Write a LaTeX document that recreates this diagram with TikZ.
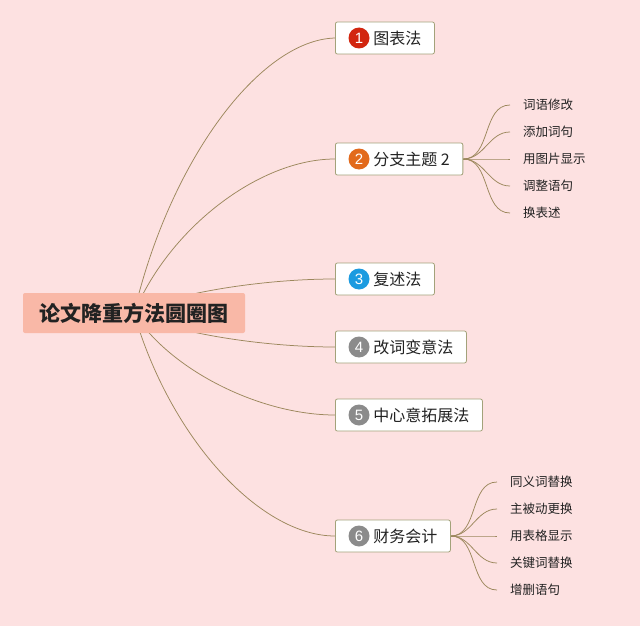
\documentclass[tikz,border=0pt]{standalone}
\usepackage{fontspec}
\setmainfont{Noto Sans CJK SC}
\newfontfamily\digitfont{Liberation Sans}
\usetikzlibrary{positioning,backgrounds}
\definecolor{bgpink}{HTML}{FDE1E1}
\definecolor{rootfill}{HTML}{F9B8A7}
\definecolor{boxline}{HTML}{A3A27A}
\definecolor{linkbrown}{HTML}{9C875C}
\definecolor{numred}{HTML}{D2260F}
\definecolor{numorange}{HTML}{E26A1C}
\definecolor{numblue}{HTML}{1C9BE0}
\definecolor{numgray}{HTML}{8B8B8B}
\definecolor{inkdark}{HTML}{222222}
\begin{document}
\begin{tikzpicture}[x=1pt,y=-1pt,
  root/.style={fill=rootfill,rounded corners=2pt,minimum width=222pt,minimum height=40pt,
    text=inkdark,font=\fontsize{21}{21}\selectfont\bfseries},
  topic/.style={draw=boxline,fill=white,rounded corners=2pt,line width=0.8pt,
    minimum height=32pt,inner xsep=13pt,anchor=west,text=inkdark,font=\fontsize{16}{16}\selectfont},
  num/.style={circle,fill=#1,text=white,inner sep=0pt,minimum size=21pt,font=\digitfont\fontsize{15}{15}\selectfont},
  leaf/.style={anchor=west,inner xsep=13pt,inner ysep=0pt,text=inkdark,font=\fontsize{12.5}{12.5}\selectfont},
  link/.style={draw=linkbrown,line width=0.75pt}]
\useasboundingbox (0,0) rectangle (640,626);

% main topic
\node[root] (root) at (134,313) {论文降重方法圆圈图};

% branches
\node[topic] (t1) at (335,38) {\hspace*{25pt}图表法};
\node[topic] (t2) at (335,159) {\hspace*{25pt}分支主题 2};
\node[topic] (t3) at (335,279) {\hspace*{25pt}复述法};
\node[topic] (t4) at (335,347) {\hspace*{25pt}改词变意法};
\node[topic] (t5) at (335,415) {\hspace*{25pt}中心意拓展法};
\node[topic] (t6) at (335,536) {\hspace*{25pt}财务会计};
\node[num=numred] (n1) at (359,38) {1};
\node[num=numorange] (n2) at (359,159) {2};
\node[num=numblue] (n3) at (359,279) {3};
\node[num=numgray] (n4) at (359,347) {4};
\node[num=numgray] (n5) at (359,415) {5};
\node[num=numgray] (n6) at (359,536) {6};

% leaves of 2
\node[leaf] (l21) at (510,105) {词语修改};
\node[leaf] (l22) at (510,132) {添加词句};
\node[leaf] (l23) at (510,159) {用图片显示};
\node[leaf] (l24) at (510,186) {调整语句};
\node[leaf] (l25) at (510,213) {换表述};

% leaves of 6
\node[leaf] (l61) at (497,482) {同义词替换};
\node[leaf] (l62) at (497,509) {主被动更换};
\node[leaf] (l63) at (497,536) {用表格显示};
\node[leaf] (l64) at (497,563) {关键词替换};
\node[leaf] (l65) at (497,590) {增删语句};

\begin{scope}[on background layer]
\fill[bgpink] (0,0) rectangle (640,626);
\draw[link] (root.center) .. controls (170,160) and (260,40) .. (t1.west);
\draw[link] (root.center) .. controls (170,227) and (260,159) .. (t2.west);
\draw[link] (root.center) .. controls (170,294) and (260,279) .. (t3.west);
\draw[link] (root.center) .. controls (170,332) and (260,347) .. (t4.west);
\draw[link] (root.center) .. controls (170,370) and (260,415) .. (t5.west);
\draw[link] (root.center) .. controls (170,438) and (260,536) .. (t6.west);
\foreach \k in {1,...,5} {
  \draw[link] (t2.east) to[out=0,in=180] (l2\k.west);
  \draw[link] (t6.east) to[out=0,in=180] (l6\k.west);
}
\end{scope}
\end{tikzpicture}
\end{document}
